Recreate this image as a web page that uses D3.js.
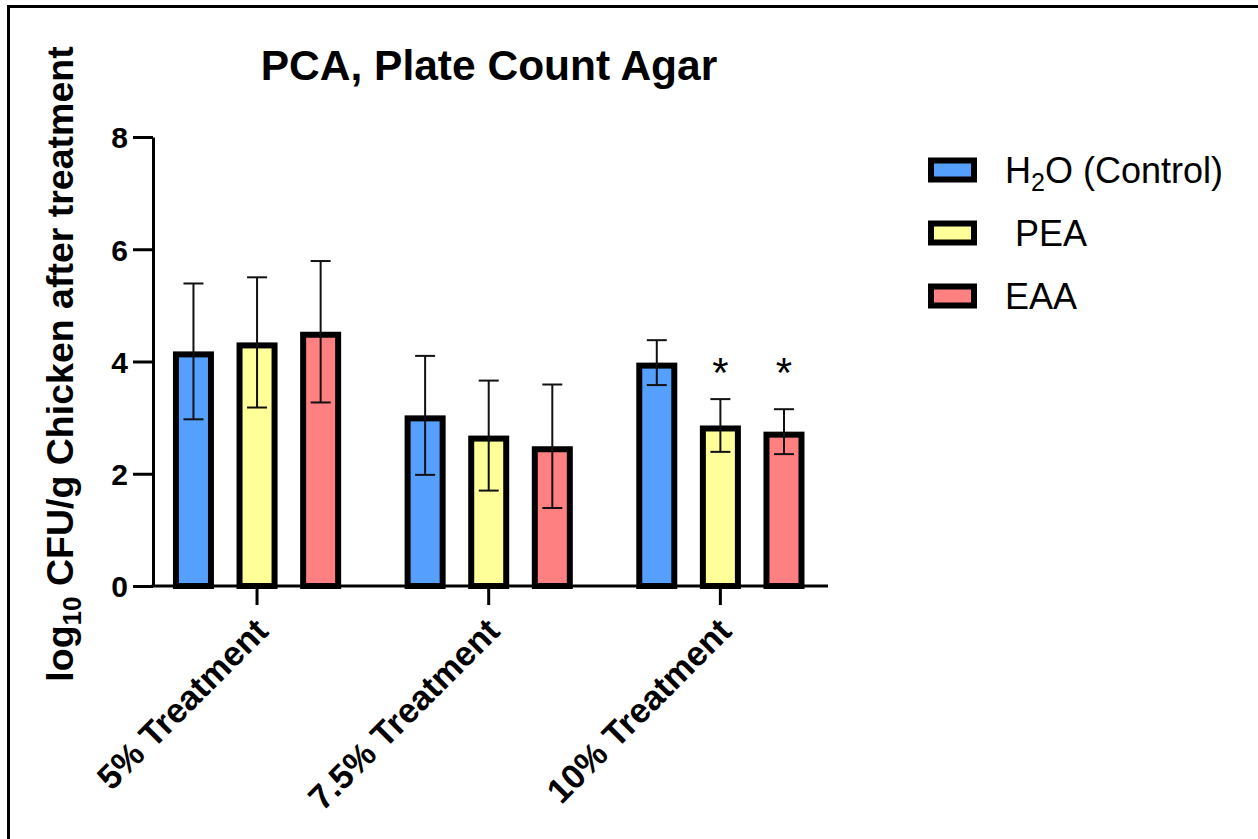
<!DOCTYPE html>
<html><head><meta charset="utf-8">
<script src="https://cdn.jsdelivr.net/npm/d3@7"></script>
<style>
body{margin:0;background:#fff;}
text{font-family:"Liberation Sans",Arial,Helvetica,sans-serif;}
</style>
</head><body>
<svg id="chart" width="1258" height="839"></svg>
<script>
// ---------- data ----------
const categories = ["5% Treatment", "7.5% Treatment", "10% Treatment"];
const seriesKeys = ["H2O", "PEA", "EAA"];
const h2oMean = [4.18, 3.04, 3.98];
const h2oSD   = [1.21, 1.06, 0.40];
const peaMean = [4.34, 2.68, 2.86];
const peaSD   = [1.16, 0.98, 0.47];
const eaaMean = [4.53, 2.49, 2.75];
const eaaSD   = [1.26, 1.10, 0.40];
const significance = [["", "", ""], ["", "", ""], ["", "*", "*"]];
const yTicks = [0, 2, 4, 6, 8];
const colors = ["#55A0FF", "#FFFF99", "#FF8080"];

const means = [h2oMean, peaMean, eaaMean];
const sds = [h2oSD, peaSD, eaaSD];
const rows = [];
categories.forEach((c, ci) => seriesKeys.forEach((s, si) => rows.push({
  cat: c, key: s, si, mean: means[si][ci], sd: sds[si][ci], sig: significance[ci][si]
})));

// ---------- layout ----------
const svg = d3.select("#chart");
const FONT = '"Liberation Sans",Arial,sans-serif';

// frame
svg.append("rect").attr("x", 8.5).attr("y", 6.5).attr("width", 1400).attr("height", 1000)
  .attr("fill", "none").attr("stroke", "#000").attr("stroke-width", 3);

const y = d3.scaleLinear().domain([0, 8]).range([586, 137]);
const x0 = d3.scaleBand().domain(categories).range([141.2, 836.2]).paddingInner(0).paddingOuter(0);
const x1 = d3.scaleBand().domain(seriesKeys).range([31.75, 199.95]).paddingInner(0.355).paddingOuter(0);
const color = d3.scaleOrdinal().domain(seriesKeys).range(colors);

const axisX = 153, axisEnd = 828;

// bars (border drawn inside so the outer top edge marks the mean)
const bw = x1.bandwidth();
const g = svg.append("g");
g.selectAll("rect.bar").data(rows).enter().append("rect")
  .attr("class", "bar")
  .attr("x", d => x0(d.cat) + x1(d.key) + 3)
  .attr("width", bw - 6)
  .attr("y", d => y(d.mean) + 3)
  .attr("height", d => y(0) - y(d.mean) - 3)
  .attr("fill", d => color(d.key))
  .attr("stroke", "#000").attr("stroke-width", 6);

// error bars
const eb = g.selectAll("g.eb").data(rows).enter().append("g").attr("class", "eb")
  .attr("stroke", "#111").attr("stroke-width", 2);
const cx = d => x0(d.cat) + x1(d.key) + bw / 2;
eb.append("line").attr("x1", cx).attr("x2", cx)
  .attr("y1", d => y(d.mean + d.sd)).attr("y2", d => y(d.mean - d.sd));
eb.append("line").attr("x1", d => cx(d) - 10).attr("x2", d => cx(d) + 10)
  .attr("y1", d => y(d.mean + d.sd)).attr("y2", d => y(d.mean + d.sd));
eb.append("line").attr("x1", d => cx(d) - 10).attr("x2", d => cx(d) + 10)
  .attr("y1", d => y(d.mean - d.sd)).attr("y2", d => y(d.mean - d.sd));

// significance stars (aligned within a category)
const sigRows = rows.filter(d => d.sig);
const sigTop = d3.min(sigRows, d => y(d.mean + d.sd));
g.selectAll("text.sig").data(sigRows).enter().append("text")
  .attr("class", "sig")
  .attr("x", cx).attr("y", sigTop - 12)
  .attr("text-anchor", "middle")
  .attr("font-family", '"DejaVu Sans",sans-serif')
  .attr("font-size", 42).attr("fill", "#000")
  .text(d => d.sig);

// y axis
const yAxis = svg.append("g").attr("transform", `translate(${axisX},0)`)
  .call(d3.axisLeft(y).tickValues(yTicks).tickSize(20).tickSizeOuter(0).tickPadding(5).tickFormat(d3.format("d")));
yAxis.select(".domain").attr("stroke", "#000").attr("stroke-width", 3);
yAxis.selectAll(".tick line").attr("stroke", "#000").attr("stroke-width", 3);
yAxis.selectAll(".tick text").attr("font-size", 30).attr("font-weight", "bold")
  .attr("font-family", FONT).attr("fill", "#000").attr("dy", "0.36em");

// x axis
const xAxis = svg.append("g").attr("transform", `translate(0,${y(0)})`)
  .call(d3.axisBottom(x0).tickSize(19).tickSizeOuter(0));
xAxis.select(".domain").remove();
xAxis.append("line").attr("x1", axisX - 1.5).attr("x2", axisEnd).attr("y1", 0).attr("y2", 0)
  .attr("stroke", "#000").attr("stroke-width", 3);
xAxis.selectAll(".tick line").attr("stroke", "#000").attr("stroke-width", 3);
xAxis.selectAll(".tick text")
  .attr("font-size", 34.5).attr("font-weight", "bold").attr("font-family", FONT).attr("fill", "#000")
  .attr("x", 0).attr("y", 0).attr("dy", 0)
  .attr("text-anchor", "end")
  .attr("transform", "translate(13,47) rotate(-45)");

// y axis title
const yt = svg.append("text")
  .attr("transform", "translate(73,364) rotate(-90)")
  .attr("text-anchor", "middle")
  .attr("font-size", 37.5).attr("font-weight", "bold").attr("fill", "#000");
yt.append("tspan").text("log");
yt.append("tspan").text("10").attr("font-size", 26).attr("dy", 8);
yt.append("tspan").text(" CFU/g Chicken after treatment").attr("dy", -8);

// chart title
svg.append("text").attr("x", 489).attr("y", 80).attr("text-anchor", "middle")
  .attr("font-size", 42.5).attr("font-weight", "bold").attr("fill", "#000")
  .text("PCA, Plate Count Agar");

// legend
const legendLabels = [["H", "2", "O (Control)"], ["\u00a0PEA"], ["EAA"]];
const legY = d3.scalePoint().domain(seriesKeys).range([170, 296]);
const leg = svg.append("g").selectAll("g").data(seriesKeys).enter().append("g")
  .attr("transform", d => `translate(928,${legY(d)})`);
leg.append("rect").attr("x", 3).attr("y", -9.5).attr("width", 43).attr("height", 19)
  .attr("fill", d => color(d)).attr("stroke", "#000").attr("stroke-width", 6);
leg.append("text").attr("x", 77).attr("y", 12.5).attr("font-size", 36).attr("fill", "#000")
  .each(function(d, i) {
    const t = d3.select(this);
    const parts = legendLabels[i];
    if (parts.length === 3) {
      t.append("tspan").text(parts[0]);
      t.append("tspan").text(parts[1]).attr("font-size", 25).attr("dy", 8);
      t.append("tspan").text(parts[2]).attr("dy", -8);
    } else {
      t.text(parts[0]);
    }
  });
</script>
</body></html>
